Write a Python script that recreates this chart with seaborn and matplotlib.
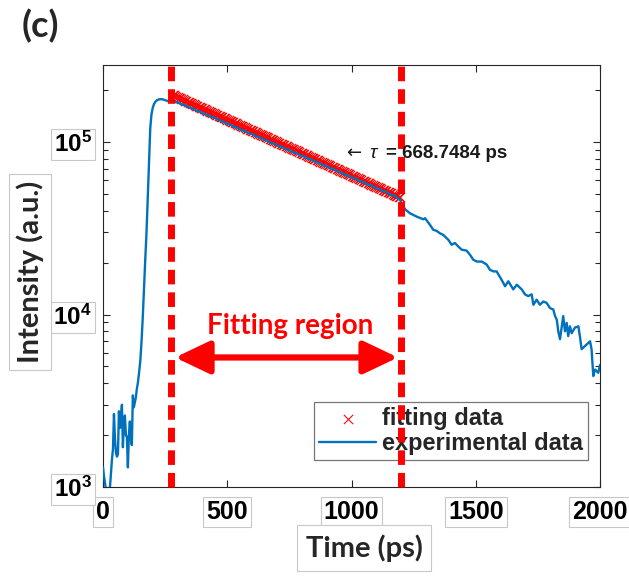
import numpy as np
import pandas as pd
import matplotlib
matplotlib.use("Agg")
import matplotlib.pyplot as plt
import seaborn as sns
from matplotlib.ticker import FixedLocator, FixedFormatter, LogLocator, NullFormatter, NullLocator

# ---------------- data ----------------
exp_time = [
    0, 4, 8, 12, 16, 20, 24, 28, 32, 36, 40, 44, 48, 52, 56, 60, 64, 68, 72, 76,
    80, 84, 88, 92, 96, 100, 104, 108, 112, 116, 120, 124, 128, 132, 136, 140,
    145, 150, 155, 160, 165, 170, 175, 180, 185, 190, 195, 200, 205, 210, 217,
    225, 237, 250, 261, 275, 288,
    300, 315, 330, 345, 360, 375, 390, 405, 420, 435, 450, 465, 480, 495, 510,
    525, 540, 555, 570, 585, 600, 615, 630, 645, 660, 675, 690, 705, 720, 735,
    750, 765, 780, 795, 810, 825, 840, 855, 870, 885, 900, 915, 930, 945, 960,
    975, 990, 1005, 1020, 1035, 1050, 1065, 1080, 1095, 1110, 1125, 1140, 1155,
    1170, 1185, 1195,
    1202, 1218, 1235, 1262, 1289, 1296, 1316, 1329, 1342, 1356, 1369, 1390,
    1403, 1416, 1430, 1443, 1463, 1477, 1490, 1504, 1524, 1544, 1557, 1571,
    1584, 1604, 1618, 1631, 1651, 1665, 1685, 1698, 1711, 1725, 1732, 1745,
    1758, 1772, 1785, 1799, 1812, 1819, 1826, 1832, 1839, 1846, 1852, 1859,
    1866, 1872, 1879, 1886, 1899, 1913, 1919, 1926, 1946, 1960, 1966, 1973,
    1980, 1993, 2000, 2013,
]
exp_intensity = [
    1300, 1150, 1050, 960, 930, 940, 960, 1000, 1200, 1450, 1660, 2650, 1900,
    1580, 1500, 1550, 2750, 2200, 2500, 3000, 1700, 2350, 2600, 2000, 1950,
    1300, 2000, 2400, 1900, 1750, 3400, 2900, 3100, 3300, 3700, 4000,
    4600, 5400, 7000, 9700, 14500, 21000, 30000, 48000, 80000, 120000, 145000,
    158000, 166000, 171000, 175000, 177000, 177500, 175000, 173000, 172000, 171500,
    170300, 166000, 163500, 159000, 156800, 152500, 150300, 146000, 143900,
    140000, 138100, 134000, 132200, 128300, 126800, 122900, 121300, 117800,
    116300, 112700, 111500, 108000, 106800, 103500, 102200, 99000, 97900, 95000,
    93900, 91000, 89900, 87200, 86200, 83600, 82500, 80000, 79100, 76700, 75800,
    73400, 72600, 70400, 69500, 67400, 66600, 64400, 63800, 61800, 61200, 59100,
    58600, 56600, 56200, 54200, 53800, 51900, 51500, 49600, 49200, 47300, 46500,
    43300, 40500, 38700, 37000, 35700, 36200, 33100, 31000, 30600, 29600, 29000,
    27100, 25400, 26000, 24800, 23800, 23500, 22200, 20800, 20300, 20300, 19500,
    18200, 17800, 17800, 15900, 14600, 15600, 14000, 14900, 14000, 13100, 12800,
    13100, 11400, 12200, 11400, 11900, 11700, 10900, 10700, 9800, 9350, 8000,
    7200, 8550, 9800, 8000, 8950, 7500, 8550, 7800, 8400, 8550, 7500, 6300,
    6700, 7000, 6300, 4400, 4800, 4600, 5100, 5200,
]

# single-exponential fit shown in the chart (tau printed on the figure)
fit_tau_ps = 668.7484
fit_ref_time = 750
fit_ref_intensity = 93000
fit_start, fit_end, fit_step = 280, 1198, 5

region_bounds = [275, 1198]
x_ticks = [0, 500, 1000, 1500, 2000]
x_tick_labels = ["0", "500", "1000", "1500", "2000"]
y_ticks = [1e3, 1e4, 1e5]
y_tick_labels = [r"$\mathbf{10^{3}}$", r"$\mathbf{10^{4}}$", r"$\mathbf{10^{5}}$"]
tau_value_label = "= 668.7484 ps"

fit_time = np.arange(fit_start, fit_end + 1, fit_step)
fit_intensity = fit_ref_intensity * np.exp(-(fit_time - fit_ref_time) / fit_tau_ps)

exp_df = pd.DataFrame({"Time": exp_time, "Intensity": exp_intensity})
fit_df = pd.DataFrame({"Time": fit_time, "Intensity": fit_intensity})

# ---------------- style ----------------
sns.set_theme(style="white")
plt.rcParams["font.family"] = ["Liberation Sans", "DejaVu Sans"]
plt.rcParams["mathtext.fontset"] = "custom"
plt.rcParams["mathtext.rm"] = "Liberation Sans"
plt.rcParams["mathtext.it"] = "Liberation Sans:italic"
plt.rcParams["mathtext.bf"] = "Liberation Sans:bold"

W, H = 629, 580
fig = plt.figure(figsize=(W / 100, H / 100), dpi=100)
ax = fig.add_axes([0.1638, 0.1603, 0.7901, 0.7276])
ax.set_yscale("log")

sns.scatterplot(data=fit_df, x="Time", y="Intensity", marker="x", color="#ff0000",
                s=45, linewidth=0.75, ax=ax, label="fitting data", zorder=2)
sns.lineplot(data=exp_df, x="Time", y="Intensity", color="#0072BD", linewidth=1.7,
             estimator=None, sort=False, ax=ax, label="experimental data", zorder=3)

ax.set_xlim(0, 2000)
ax.set_ylim(1e3, 2.8e5)
ax.set_xlabel("")
ax.set_ylabel("")

# ticks
ax.xaxis.set_major_locator(FixedLocator(x_ticks))
ax.xaxis.set_major_formatter(FixedFormatter(x_tick_labels))
ax.xaxis.set_minor_locator(NullLocator())
ax.yaxis.set_major_locator(FixedLocator(y_ticks))
ax.yaxis.set_major_formatter(FixedFormatter(y_tick_labels))
ax.yaxis.set_minor_locator(LogLocator(base=10, subs=np.arange(2, 10)))
ax.yaxis.set_minor_formatter(NullFormatter())
ax.tick_params(which="both", direction="in", top=True, right=True, left=True,
               bottom=True, color="#262626", width=0.8)
ax.tick_params(which="major", length=5)
ax.tick_params(which="minor", length=3.5)
ax.tick_params(axis="x", which="major", pad=9)
ax.tick_params(axis="y", which="major", pad=8)
for sp in ax.spines.values():
    sp.set_color("#262626")
    sp.set_linewidth(0.8)

box = dict(boxstyle="square,pad=0.12", fc="white", ec="#c8c8c8", lw=0.8)
for lab in ax.get_xticklabels():
    lab.set_fontsize(18)
    lab.set_fontweight("bold")
    lab.set_color("black")
    lab.set_bbox(box)
for lab in ax.get_yticklabels():
    lab.set_fontsize(17.5)
    lab.set_color("black")
    lab.set_bbox(box)

# region lines
for xb in region_bounds:
    ax.axvline(xb, color="#ff0000", lw=5, dashes=(2.1, 1.15), zorder=6, clip_on=False)

# double-headed arrow and label
ax.annotate("", xy=(290, 5640), xytext=(1187, 5640),
            arrowprops=dict(arrowstyle="<|-|>,head_length=2.1,head_width=1.0",
                            color="#ff0000", lw=4.5, shrinkA=0, shrinkB=0,
                            mutation_scale=10), zorder=5)
ax.text(752, 8530, "Fitting region", color="#ff0000", fontsize=20, fontweight="bold",
        family=["Lato", "DejaVu Sans"], ha="center", va="center", zorder=5)

# tau annotation (pixel positions from the reference)
def fx(px):
    return px / W

def fy(py):
    return 1 - py / H

fig.text(fx(346), fy(153), "\u2190", fontsize=13, family=["DejaVu Sans"],
         color="#1a1a1a", ha="left", va="center", zorder=4)
fig.text(fx(369), fy(153), r"$\tau$", fontsize=14, color="#1a1a1a",
         ha="left", va="center", zorder=4)
fig.text(fx(386), fy(153), tau_value_label, fontsize=13.5, fontweight="bold",
         color="#1a1a1a", ha="left", va="center", zorder=4)

# legend
leg = ax.legend(loc="lower right", bbox_to_anchor=(0.976, 0.064), borderaxespad=0,
                frameon=True, fancybox=False, edgecolor="#555555",
                prop=dict(family="Liberation Sans", weight="bold", size=17),
                handlelength=2.45, handletextpad=0.25, borderpad=0.2, labelspacing=0.1)
leg.get_frame().set_linewidth(0.9)

# figure texts
fig.text(fx(40), fy(26), "(c)", fontsize=26, fontweight="bold",
         family=["Lato", "DejaVu Sans"], ha="center", va="center")
fig.text(fx(364), fy(548), "Time (ps)", fontsize=21, fontweight="bold",
         family=["Lato", "DejaVu Sans"], ha="center", va="center",
         bbox=dict(boxstyle="square,pad=0.3", fc="white", ec="#c8c8c8", lw=0.8))
fig.text(fx(30), fy(272), "Intensity (a.u.)", fontsize=21, fontweight="bold",
         family=["Lato", "DejaVu Sans"], ha="center", va="center", rotation=90,
         bbox=dict(boxstyle="square,pad=0.25", fc="white", ec="#c8c8c8", lw=0.8))

fig.savefig("out.png", dpi=100)
